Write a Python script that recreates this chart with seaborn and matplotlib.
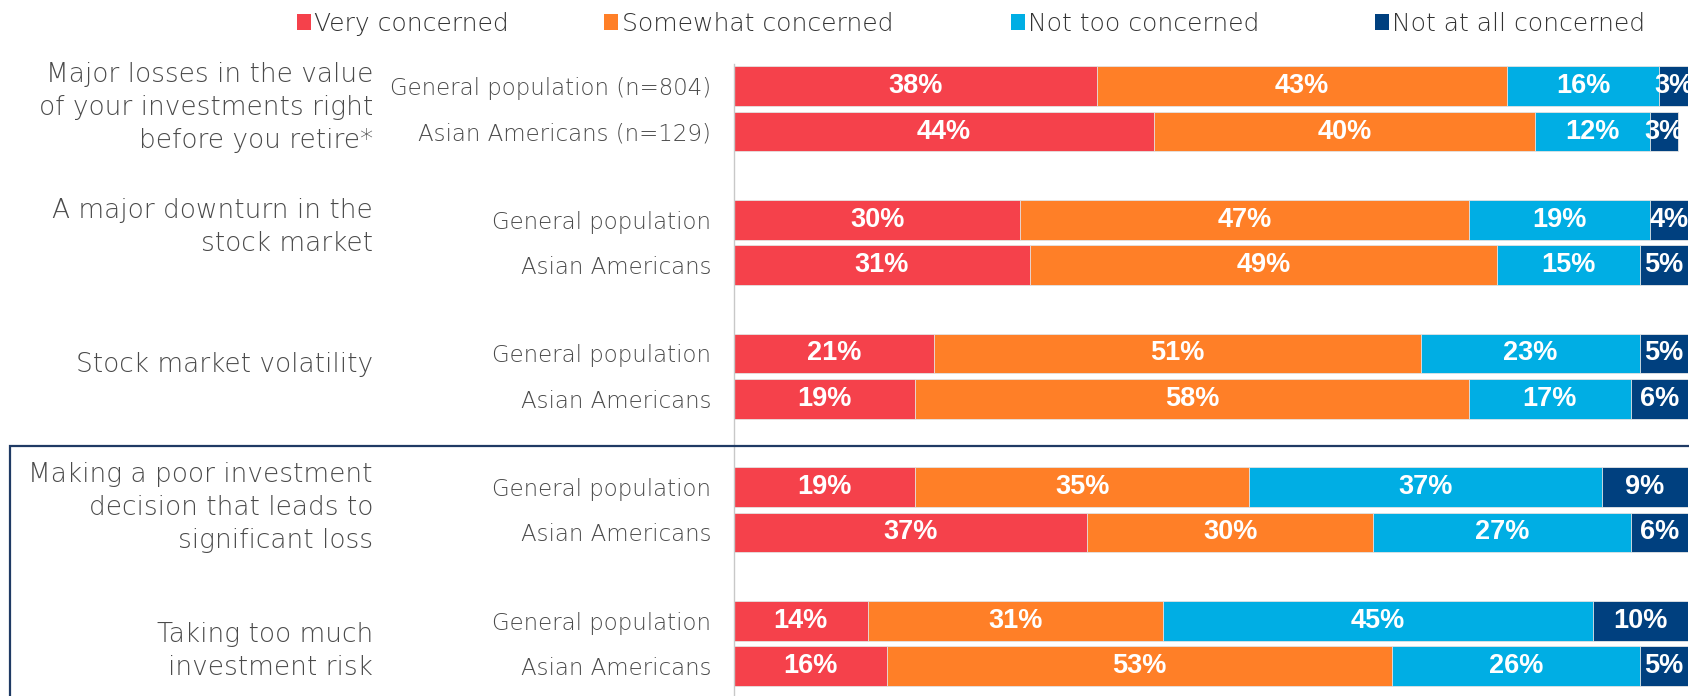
import matplotlib
matplotlib.use("Agg")
import matplotlib.pyplot as plt
import matplotlib.transforms as mtransforms
from matplotlib.patches import Rectangle, Patch
import pandas as pd
import seaborn as sns

# Survey topics (left column) and the two respondent groups shown for each
topics = [
    "Major losses in the value\nof your investments right\nbefore you retire*",
    "A major downturn in the\nstock market",
    "Stock market volatility",
    "Making a poor investment\ndecision that leads to\nsignificant loss",
    "Taking too much\ninvestment risk",
]
row_labels = [
    "General population (n=804)", "Asian Americans (n=129)",
    "General population", "Asian Americans",
    "General population", "Asian Americans",
    "General population", "Asian Americans",
    "General population", "Asian Americans",
]
levels = ["Very concerned", "Somewhat concerned", "Not too concerned", "Not at all concerned"]

very_concerned = [38, 44, 30, 31, 21, 19, 19, 37, 14, 16]
somewhat_concerned = [43, 40, 47, 49, 51, 58, 35, 30, 31, 53]
not_too_concerned = [16, 12, 19, 15, 23, 17, 37, 27, 45, 26]
not_at_all_concerned = [3, 3, 4, 5, 5, 6, 9, 6, 10, 5]

colors = ["#F5414B", "#FF7F27", "#00AEE4", "#00407F"]

# layout: rows within a topic are 1 unit apart, topics 2.95 units apart
GROUP_STEP = 2.95
label_offsets = [-0.04, -0.35, -0.25, -0.05, 0.16]
legend_x_px = [297, 604, 1011, 1375]

series = [very_concerned, somewhat_concerned, not_too_concerned, not_at_all_concerned]
records = []
for i, lab in enumerate(row_labels):
    ypos = (i // 2) * GROUP_STEP + (i % 2)
    start = 0
    for lvl, vals in zip(levels, series):
        v = vals[i]
        records.append(dict(row=i, label=lab, ypos=ypos, level=lvl,
                            value=v, start=start, end=start + v))
        start += v
df = pd.DataFrame(records)

sns.set_theme(style="white")
plt.rcParams["font.family"] = ["DejaVu Sans"]

TEXT_GREY = "#4A4A4A"
W, H = 1690, 696
fig = plt.figure(figsize=(W / 100, H / 100), dpi=100)
ax_left, ax_right, ax_top = 734 / W, 1688 / W, 64 / H
ax = fig.add_axes([ax_left, 0.0, ax_right - ax_left, 1 - ax_top])

# stacked bars: draw cumulative totals from the outermost segment inwards
for lvl, col in reversed(list(zip(levels, colors))):
    sub = df[df["level"] == lvl]
    sns.barplot(data=sub, x="end", y="ypos", orient="y", native_scale=True,
                width=0.88, color=col, saturation=1, errorbar=None,
                edgecolor="#E6E6E6", linewidth=0.6, ax=ax)

# segment values
for _, r in df.iterrows():
    ax.text(r["start"] + r["value"] / 2, r["ypos"], f"{r['value']}%",
            ha="center", va="center", color="white", fontsize=19.5,
            fontweight="bold", family=["Liberation Sans", "DejaVu Sans"])

ypositions = df.drop_duplicates("row")["ypos"].tolist()
ax.set_yticks(ypositions)
ax.set_yticklabels(row_labels, fontsize=16.5, color=TEXT_GREY, fontweight="light")
ax.tick_params(axis="y", length=0, pad=16.5)
ax.set_xticks([])
ax.set_xlim(0, 100)
ax.set_ylim(ypositions[-1] + 0.66, -0.49)
ax.set_xlabel("")
ax.set_ylabel("")
for side in ["top", "right", "bottom"]:
    ax.spines[side].set_visible(False)
ax.spines["left"].set_color("#C8C8C8")
ax.spines["left"].set_linewidth(1.0)

# topic labels in the far-left column
trans = mtransforms.blended_transform_factory(ax.transAxes, ax.transData)
label_x = (373 - 734) / (1688 - 734)
for g, topic in enumerate(topics):
    yc = g * GROUP_STEP + 0.5 + label_offsets[g]
    ax.text(label_x, yc, topic, transform=trans, ha="right", va="center",
            multialignment="right", fontsize=19, color=TEXT_GREY,
            fontweight="light", linespacing=1.4)

# legend across the top, one entry per anchor
for lvl, col, lx in zip(levels, colors, legend_x_px):
    fig.legend([Patch(facecolor=col, edgecolor="none")], [lvl],
               loc="center left", bbox_to_anchor=(lx / W, 1 - 24 / H),
               frameon=False, handlelength=0.55, handleheight=0.6,
               handletextpad=0.15, borderpad=0, borderaxespad=0,
               labelcolor="#333333", prop={"size": 18, "weight": "light"})

# outline highlighting the last two topics
fig.add_artist(Rectangle((10 / W, -0.05), 1.05, 1.05 - 446 / H,
                         transform=fig.transFigure, fill=False,
                         edgecolor="#1F3A64", linewidth=1.6, clip_on=False))

fig.savefig("out.png", dpi=100)
